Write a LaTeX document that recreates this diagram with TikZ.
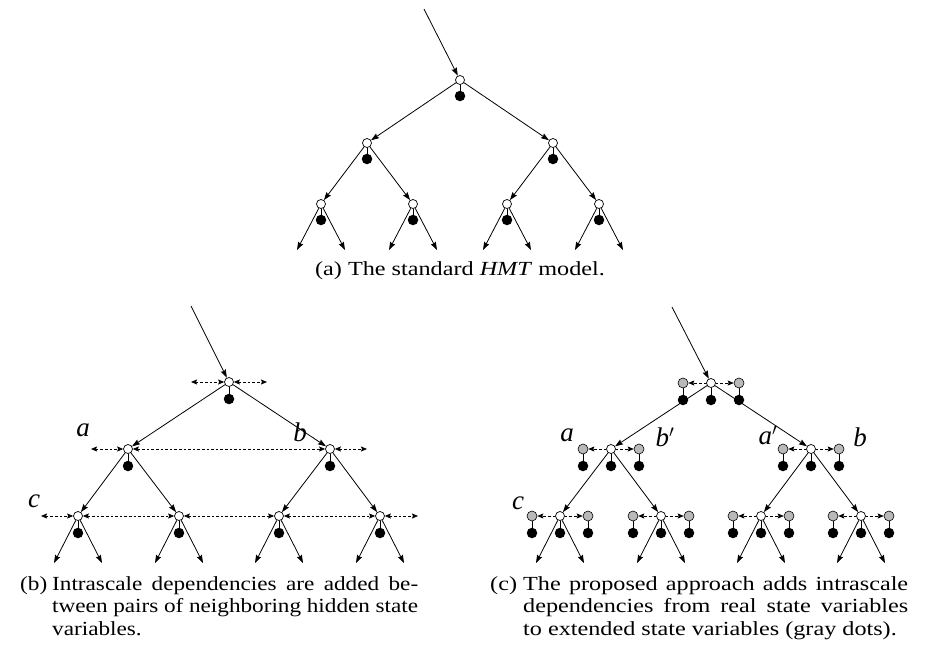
\documentclass[tikz,border=0pt]{standalone}
\usepackage{fontspec}
\setmainfont{Liberation Serif}
\newfontfamily\capfont[FakeStretch=1.21]{Liberation Serif}
\newfontfamily\capfontnarrow[FakeStretch=1.16]{Liberation Serif}
\usetikzlibrary{arrows.meta}

\begin{document}
\begin{tikzpicture}[x=1pt,y=-1pt,
  hid/.style={circle,draw,fill=white,inner sep=0pt,minimum size=9pt,line width=0.7pt},
  obs/.style={circle,fill=black,inner sep=0pt,minimum size=10.5pt},
  ext/.style={circle,draw,fill=gray!55,inner sep=0pt,minimum size=10pt,line width=0.6pt},
  edge/.style={line width=0.8pt,-{Stealth[length=8pt,width=5.5pt,inset=1pt]}},
  link/.style={line width=0.9pt},
  intra/.style={line width=0.7pt,dash pattern=on 2.6pt off 2pt,
    {Stealth[length=6pt,width=5pt,inset=1pt]}-{Stealth[length=6pt,width=5pt,inset=1pt]}},
  toext/.style={line width=0.7pt,dash pattern=on 2.6pt off 2pt,
    -{Stealth[length=6pt,width=5pt,inset=1pt]}},
  lab/.style={font=\itshape\fontsize{27}{30}\selectfont,inner sep=0pt},
  captext/.style={font=\capfont\fontsize{20}{22.5}\selectfont,inner sep=0pt,anchor=base west}
]
\useasboundingbox (0,0) rectangle (930,664);

% ---------------- (a) standard HMT ----------------
\node[hid] (a0) at (460,80) {};
\node[hid] (a1) at (367,143) {};
\node[hid] (a2) at (553,143) {};
\foreach \i/\x in {3/321,4/413,5/507,6/599}
  \node[hid] (a\i) at (\x,204) {};
\foreach \i in {0,...,6} {
  \path (a\i) ++(0,16) node[obs] (ao\i) {};
  \draw[link] (a\i) -- (ao\i);
}
\coordinate (atop) at (424,9);
\draw[edge] (atop) -- (a0);
\draw[edge] (a0) -- (a1);
\draw[edge] (a0) -- (a2);
\draw[edge] (a1) -- (a3);
\draw[edge] (a1) -- (a4);
\draw[edge] (a2) -- (a5);
\draw[edge] (a2) -- (a6);
\foreach \i in {3,...,6} {
  \path (a\i) ++(-24,46) coordinate (al\i);
  \path (a\i) ++(24,46) coordinate (ar\i);
  \draw[edge] (a\i) -- (al\i);
  \draw[edge] (a\i) -- (ar\i);
}
\node[captext,anchor=base] (capa) at (460,275) {(a) The standard \textit{HMT} model.};

% ---------------- (b) intrascale dependencies ----------------
\node[hid] (b0) at (229,382) {};
\node[hid] (b1) at (128,449) {};
\node[hid] (b2) at (330,449) {};
\foreach \i/\x in {3/78,4/179,5/279,6/380}
  \node[hid] (b\i) at (\x,516) {};
\foreach \i in {0,...,6} {
  \path (b\i) ++(0,17) node[obs] (bo\i) {};
  \draw[link] (b\i) -- (bo\i);
}
\coordinate (btop) at (191,306);
\draw[edge] (btop) -- (b0);
\draw[edge] (b0) -- (b1);
\draw[edge] (b0) -- (b2);
\draw[edge] (b1) -- (b3);
\draw[edge] (b1) -- (b4);
\draw[edge] (b2) -- (b5);
\draw[edge] (b2) -- (b6);
\foreach \i in {3,...,6} {
  \path (b\i) ++(-24,47) coordinate (bl\i);
  \path (b\i) ++(24,47) coordinate (br\i);
  \draw[edge] (b\i) -- (bl\i);
  \draw[edge] (b\i) -- (br\i);
}
% open ends of the intrascale chains
\path (b0) ++(-38,0) coordinate (b0w) (b0) ++(38,0) coordinate (b0e);
\path (b1) ++(-37,0) coordinate (b1w) (b2) ++(37,0) coordinate (b2e);
\path (b3) ++(-37,0) coordinate (b3w) (b6) ++(38,0) coordinate (b6e);
\draw[intra] (b0w) -- (b0);
\draw[intra] (b0) -- (b0e);
\draw[intra] (b1w) -- (b1);
\draw[intra] (b1) -- (b2);
\draw[intra] (b2) -- (b2e);
\draw[intra] (b3w) -- (b3);
\draw[intra] (b3) -- (b4);
\draw[intra] (b4) -- (b5);
\draw[intra] (b5) -- (b6);
\draw[intra] (b6) -- (b6e);
\node[lab] (la) at (83,430) {a};
\node[lab] (lb) at (300,432) {b};
\node[lab] (lc) at (34,501) {c};
\node[captext,font=\capfontnarrow\fontsize{20}{22.5}\selectfont] (capb) at (20,590) {\begin{tabular}[t]{@{}l@{}l@{}}
\makebox[32pt][l]{(b)} & \makebox[366pt][s]{Intrascale dependencies are added be-}\\
 & \makebox[366pt][s]{tween pairs of neighboring hidden state}\\
 & variables.
\end{tabular}};

% ---------------- (c) extended state variables ----------------
\node[hid] (c0) at (711,383) {};
\node[hid] (c1) at (611,449) {};
\node[hid] (c2) at (811,449) {};
\foreach \i/\x in {3/560,4/661,5/761,6/861}
  \node[hid] (c\i) at (\x,516) {};
\foreach \i in {0,...,6} {
  \path (c\i) ++(-28,0) node[ext] (cw\i) {};
  \path (c\i) ++(28,0) node[ext] (ce\i) {};
  \path (c\i) ++(0,17) node[obs] (co\i) {};
  \path (cw\i) ++(0,17) node[obs] (cwo\i) {};
  \path (ce\i) ++(0,17) node[obs] (ceo\i) {};
  \draw[link] (c\i) -- (co\i);
  \draw[link] (cw\i) -- (cwo\i);
  \draw[link] (ce\i) -- (ceo\i);
  \draw[toext] (c\i) -- (cw\i);
  \draw[toext] (c\i) -- (ce\i);
}
\coordinate (ctop) at (672,307);
\draw[edge] (ctop) -- (c0);
\draw[edge] (c0) -- (c1);
\draw[edge] (c0) -- (c2);
\draw[edge] (c1) -- (c3);
\draw[edge] (c1) -- (c4);
\draw[edge] (c2) -- (c5);
\draw[edge] (c2) -- (c6);
\foreach \i in {3,...,6} {
  \path (c\i) ++(-24,47) coordinate (cl\i);
  \path (c\i) ++(24,47) coordinate (cr\i);
  \draw[edge] (c\i) -- (cl\i);
  \draw[edge] (c\i) -- (cr\i);
}
\node[lab] (la2) at (567,435) {a};
\node[lab] (lb2) at (665,437) {b$'$};
\node[lab] (la3) at (768,435) {a$'$};
\node[lab] (lb3) at (860,437) {b};
\node[lab] (lc2) at (518,503) {c};
\node[captext] (capc) at (490,590) {\begin{tabular}[t]{@{}l@{}l@{}}
\makebox[33pt][l]{(c)} & \makebox[385pt][s]{The proposed approach adds intrascale}\\
 & \makebox[385pt][s]{dependencies from real state variables}\\
 & to extended state variables (gray dots).
\end{tabular}};
\end{tikzpicture}
\end{document}
